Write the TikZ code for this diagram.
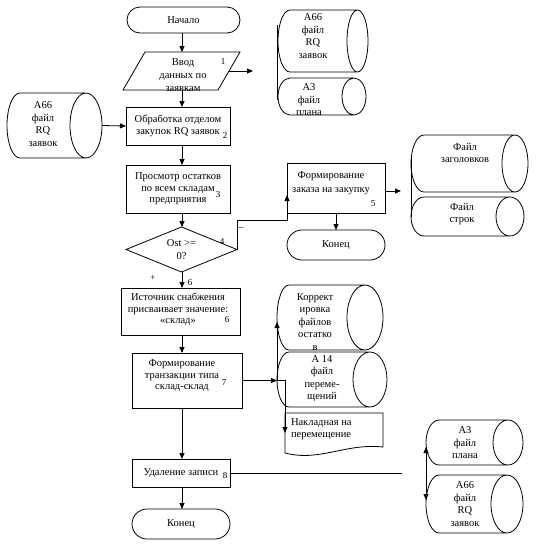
\documentclass[tikz,border=0pt]{standalone}
\usepackage{fontspec}
\setmainfont{Liberation Serif}
\usetikzlibrary{arrows.meta,calc}
\newcommand\cylshape[3]{%
  \draw[fill=white] let \p1=(#1.north west), \p2=(#1.south east), \n1={(\y1-\y2)/2} in
    (\x1+#2,\y1) -- (\x2-#3,\y1)
    arc[start angle=90,end angle=-90,x radius=#3,y radius=\n1*1pt]
    -- (\x1+#2,\y2)
    arc[start angle=270,end angle=90,x radius=#2,y radius=\n1*1pt] -- cycle
    (\x2-#3,\y1) arc[start angle=90,end angle=450,x radius=#3,y radius=\n1*1pt];}
\newcommand\cyl[7]{%
  \node[cylb,minimum width=#4pt,minimum height=#5pt] (#1) at (#2,#3) {};
  \cylshape{#1}{#6pt}{#7pt}}
\begin{document}
\begin{tikzpicture}[x=1pt,y=-1pt,line width=0.8pt,
  every node/.style={inner sep=0pt,outer sep=0pt,align=center,font=\fontsize{10.5}{11.5}\selectfont},
  box/.style={draw,rectangle},
  term/.style={draw,rectangle,rounded corners=13pt},
  cylb/.style={rectangle,draw=none},
  ctext/.style={font=\fontsize{10.5}{12.5}\selectfont},
  num/.style={font=\fontsize{9}{10}\selectfont},
  arr/.style={-{Triangle[length=6pt,width=5pt]}},
  dbl/.style={{Triangle[length=6pt,width=5pt]}-{Triangle[length=6pt,width=5pt]}}]
\useasboundingbox (0,0) rectangle (540,550);
\fill[white] (0,0) rectangle (540,550);
\coordinate (col) at (182,0);

% main column
\node[term,minimum width=113pt,minimum height=26pt] (start) at (183.5,20) {Начало};

\node[minimum width=95pt,minimum height=38pt] (in) at (181.5,71) {};
\draw ([xshift=11pt]in.north west) -- ([xshift=11pt]in.north east) -- ([xshift=-11pt]in.south east) -- ([xshift=-11pt]in.south west) -- cycle;
\node[font=\fontsize{10.5}{13}\selectfont] (int) at (183,75) {Ввод\\данных по\\заявкам};
\node[num] (n1) at (223,62) {1};

\node[box,minimum width=104pt,minimum height=38pt] (b2) at (178,126) {Обработка отделом\\закупок RQ заявок};
\node[num] (n2) at (225,136) {2};

\node[box,minimum width=104pt,minimum height=48pt] (b3) at (178,189) {Просмотр остатков\\по всем складам\\предприятия};
\node[num] (n3) at (218,195) {3};

\node[minimum width=111pt,minimum height=45pt] (dec) at (181.5,249.5) {Ost >=\\[1.5pt]0?};
\draw (dec.north) -- (dec.east) -- (dec.south) -- (dec.west) -- cycle;
\node[num] (n4) at (222,242) {4};
\node[num] (plus) at (153,278) {+};
\node[num] (n6a) at (190,283) {6};
\node (minus) at (241,229) {–};

\node[box,minimum width=119pt,minimum height=47pt] (b6) at (180.5,311.5) {};
\node (b6t) at (178,309.5) {Источник снабжения\\присваивает значение:\\«склад»};
\node[num] (n6) at (227,320) {6};

\node[box,minimum width=110pt,minimum height=55pt] (b7) at (187,380.5) {};
\node (b7t) at (182,376) {Формирование\\транзакции типа\\склад-склад};
\node[num] (n7) at (224,383) {7};

\node[box,minimum width=98pt,minimum height=28pt] (b8) at (181,473) {Удаление записи};
\node[num] (n8) at (225,476) {8};

\node[term,rounded corners=15pt,minimum width=98pt,minimum height=30pt] (e2) at (181,524) {Конец};

% branch
\node[box,minimum width=98pt,minimum height=50pt] (b5) at (336,188) {};
\node (b5t) at (331,183) {Формирование\\[3pt]заказа на закупку};
\node[num] (n5) at (373,204) {5};
\node[term,rounded corners=15pt,minimum width=98pt,minimum height=30pt] (e1) at (336,245) {Конец};

% cylinders
\cyl{a66t}{323}{41}{90}{62}{12}{10.5}
\node[ctext] (a66tt) at (313,36) {А66\\файл\\RQ\\заявок};
\cyl{a3t}{322}{96.5}{88}{37}{12}{12}
\node[ctext] (a3tt) at (309,100) {А3\\файл\\плана};
\cyl{a66l}{54.5}{125.5}{95}{65}{13}{16}
\node[ctext] (a66lt) at (43,124) {А66\\файл\\RQ\\заявок};
\cyl{ft}{469.5}{163.5}{117}{57}{13}{13}
\node[ctext] (ftt) at (465,153) {Файл\\заголовков};
\cyl{fs}{467.5}{216.5}{113}{39}{13}{14}
\node[ctext] (fst) at (462,214) {Файл\\строк};
\cyl{kor}{330}{317.5}{106}{65}{12}{18}
\node[ctext] (kort) at (315,322) {Коррект\\ировка\\файлов\\остатко\\в};
\cyl{a14}{332}{379.5}{110}{55}{12}{17}
\node[ctext] (a14t) at (322,378.5) {А 14\\файл\\переме-\\щений};
\cyl{a3b}{474.5}{442.5}{97}{45}{13}{15}
\node[ctext] (a3bt) at (465,443) {А3\\файл\\плана};
\cyl{a66b}{474.5}{504}{97}{58}{13}{16}
\node[ctext] (a66bt) at (465,504) {А66\\файл\\RQ\\заявок};

% document
\node[minimum width=98pt,minimum height=40pt] (doc) at (334,433) {};
\draw[fill=white] (doc.north west) -- (doc.north east) -- ([yshift=6pt]doc.south east)
  .. controls ($(doc.south)+(11,-10)$) and ($(doc.south)+(-14,9)$) .. (doc.south west) -- cycle;
\node[anchor=west,align=left] (doct) at (291,429) {Накладная на\\перемещение};

% connectors
\draw[arr] (start.south -| col) -- (in.north -| col);
\draw[arr] (in.south -| col) -- (b2.north -| col);
\draw[arr] (b2.south -| col) -- (b3.north -| col);
\draw[arr] (b3.south -| col) -- (dec.north -| col);
\draw[arr] (dec.south -| col) -- (b6.north -| col);
\draw[arr] (b6.south -| col) -- (b7.north -| col);
\draw[arr] (b7.south -| col) -- (b8.north -| col);
\draw[arr] (b8.south -| col) -- (e2.north -| col);

\coordinate (inout) at ($(in.east)+(24,0)$);
\draw[arr] (in.east) -- (inout);
\draw[arr] (a66l.east) -- (b2.west);
\draw[arr] (dec.east) |- ($(b5.south west)+(0,7)$) -- ($(b5.west)+(0,7)$);
\coordinate (b5out) at ($(b5.east)+(16,3)$);
\draw[arr] ($(b5.east)+(0,3)$) -- (b5out);
\draw[arr] (b5.south) -- (e1.north);

\coordinate (jn) at (277,380.5);
\draw[arr] (b7.east) -- (jn);
\draw[arr] (jn) -- ($(kor.west)+(0,4.5)$);
\draw[arr] (jn) -| (doc.west);

\coordinate (b8out) at (402,473);
\draw (b8.east) -- (b8out);
\draw[dbl] ($(a3b.west)+(0,4.5)$) -- ($(a66b.west)+(0,-4)$);
\draw ($(a66t.west)+(-1,-16)$) -- ($(a3t.west)+(-1,3.5)$);
\draw ($(ft.west)+(0,-6)$) -- ($(fs.west)+(0,0.5)$);
\end{tikzpicture}
\end{document}
